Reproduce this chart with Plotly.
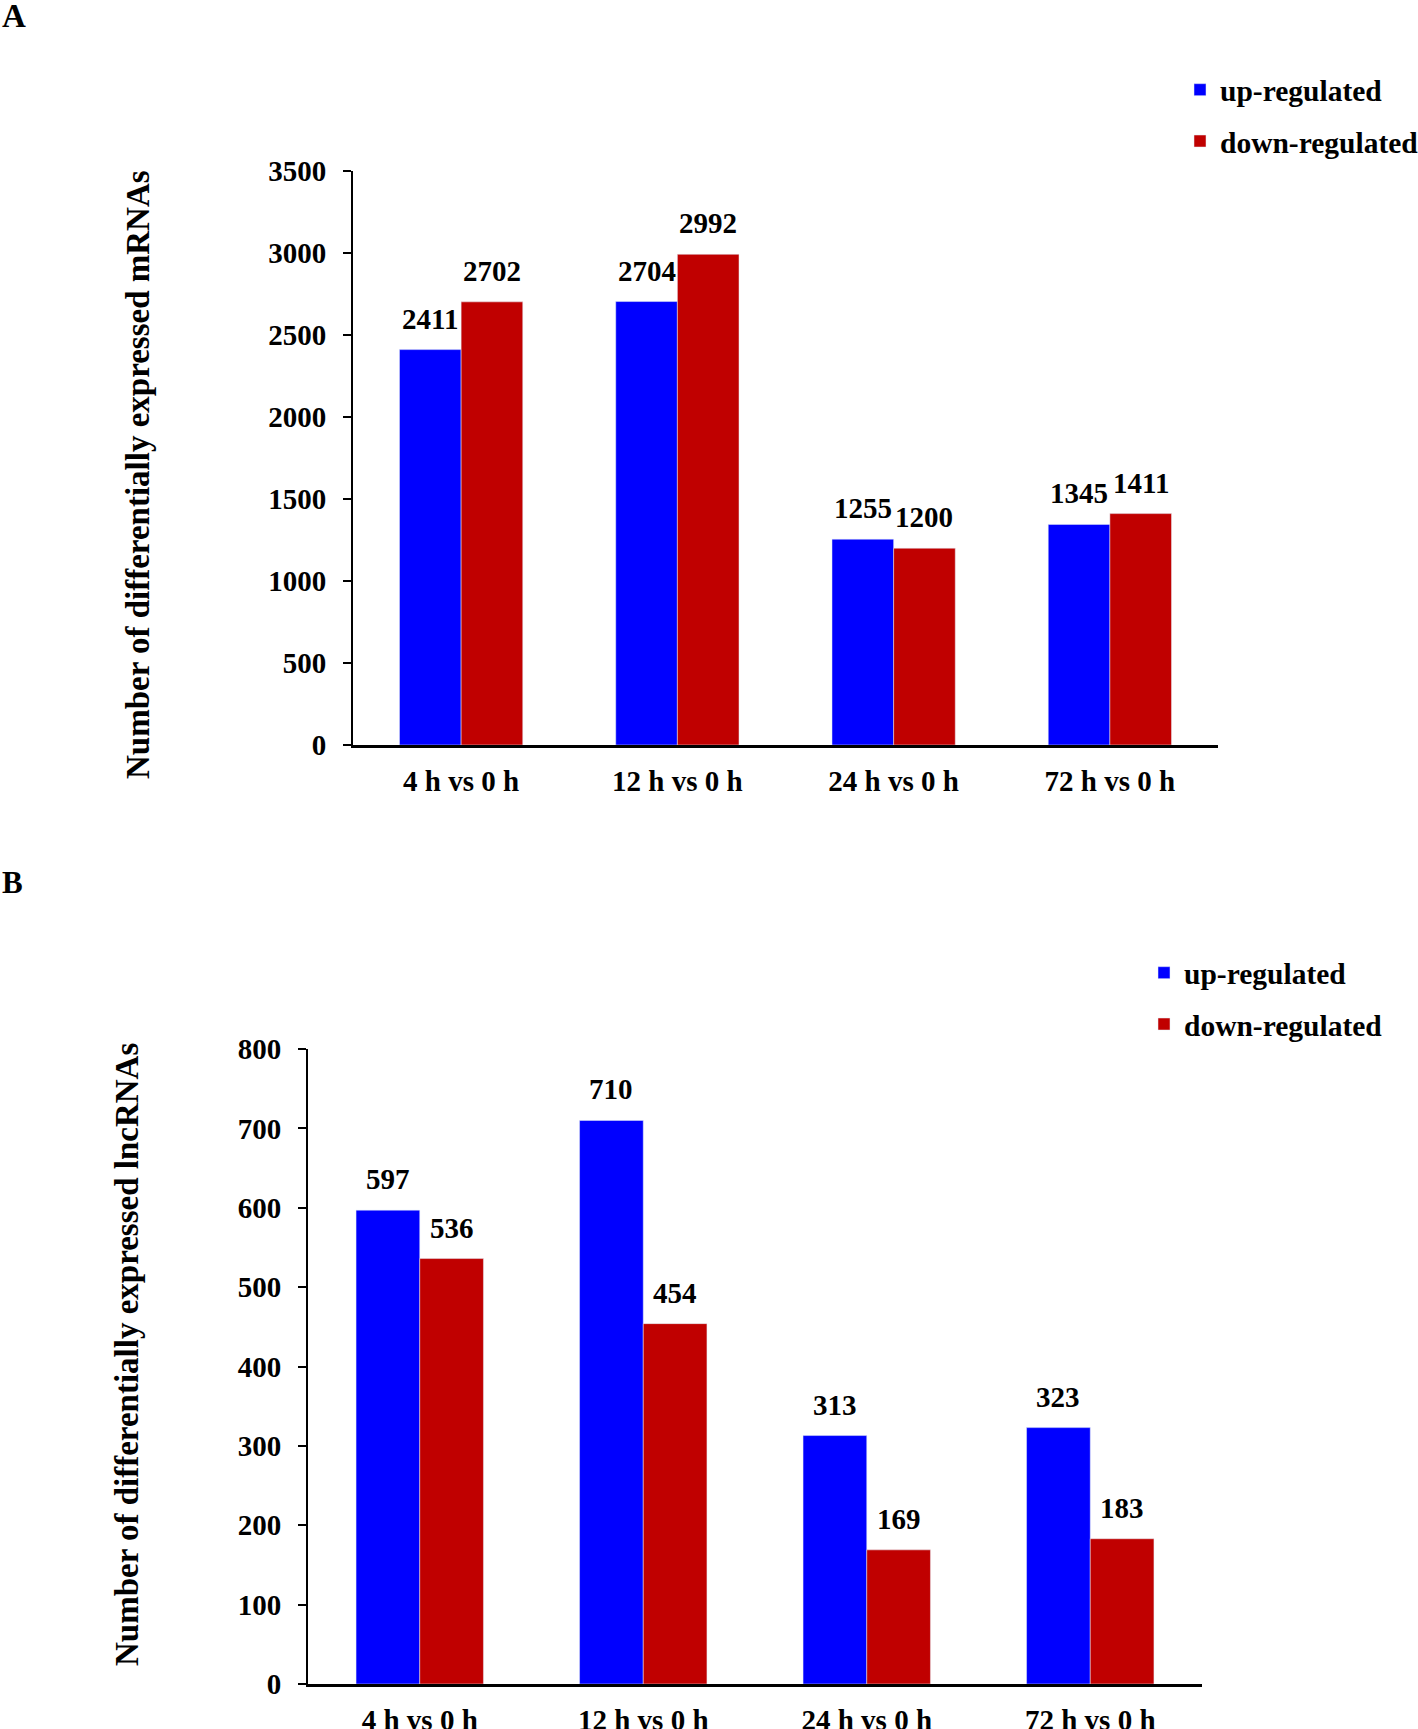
import plotly.graph_objects as go

categories = ["4 h vs 0 h", "12 h vs 0 h", "24 h vs 0 h", "72 h vs 0 h"]
mrna_up = [2411, 2704, 1255, 1345]
mrna_down = [2702, 2992, 1200, 1411]
lnc_up = [597, 710, 313, 323]
lnc_down = [536, 454, 169, 183]
series_names = ["up-regulated", "down-regulated"]
mrna_ticks = [0, 500, 1000, 1500, 2000, 2500, 3000, 3500]
lnc_ticks = [0, 100, 200, 300, 400, 500, 600, 700, 800]

W, H = 1418, 1729
BLUE = "#0000FF"
RED = "#C00000"
FONT = "Liberation Serif"
FS = 29
BARGAP = 0.43

xA = [353 / W, 1218 / W]
yA = [1 - 745 / H, 1 - 171 / H]
xB = [308 / W, 1202 / W]
yB = [1 - 1684 / H, 1 - 1049 / H]

fig = go.Figure()
fig.add_trace(go.Bar(x=categories, y=mrna_up, name=series_names[0], marker_color=BLUE,
                     xaxis="x", yaxis="y", legend="legend", legendgroup="a1"))
fig.add_trace(go.Bar(x=categories, y=mrna_down, name=series_names[1], marker_color=RED,
                     xaxis="x", yaxis="y", legend="legend", legendgroup="a2"))
fig.add_trace(go.Bar(x=categories, y=lnc_up, name=series_names[0], marker_color=BLUE,
                     xaxis="x2", yaxis="y2", legend="legend2", legendgroup="b1"))
fig.add_trace(go.Bar(x=categories, y=lnc_down, name=series_names[1], marker_color=RED,
                     xaxis="x2", yaxis="y2", legend="legend2", legendgroup="b2"))

tfont = dict(family=FONT, size=FS, color="black", weight="bold")

def yax(domain, rng, ticks, anchor):
    return dict(domain=domain, range=rng, tickvals=ticks, showline=True, linecolor="black",
                linewidth=2, ticks="outside", ticklen=8, tickwidth=2, tickcolor="black",
                showgrid=False, zeroline=False, tickfont=tfont, anchor=anchor,
                ticklabelstandoff=11, fixedrange=True, automargin=False)

def xax(domain, anchor):
    return dict(domain=domain, showline=True, linecolor="black", linewidth=3, ticks="",
                showgrid=False, zeroline=False, tickfont=tfont, anchor=anchor,
                ticklabelstandoff=8, fixedrange=True, automargin=False)

annotations = []

def add_labels(xdom, xref, yref, ups, downs):
    cat_px = (xdom[1] - xdom[0]) * W / len(categories)
    off = cat_px * (1 - BARGAP) / 4
    for c, u, d in zip(categories, ups, downs):
        for v, s in ((u, -off), (d, off)):
            annotations.append(dict(x=c, y=v, xref=xref, yref=yref, text=str(v), showarrow=False,
                                    xshift=s, yshift=13, yanchor="bottom", xanchor="center",
                                    font=tfont))

add_labels(xA, "x", "y", mrna_up, mrna_down)
add_labels(xB, "x2", "y2", lnc_up, lnc_down)

annotations += [
    dict(text="A", x=0, y=1 - 16 / H, xref="paper", yref="paper", xanchor="left", yanchor="middle",
         showarrow=False, font=dict(family=FONT, size=33, color="black", weight="bold")),
    dict(text="B", x=0, y=1 - 883 / H, xref="paper", yref="paper", xanchor="left", yanchor="middle",
         showarrow=False, font=dict(family=FONT, size=31, color="black", weight="bold")),
    dict(text="Number of differentially expressed mRNAs", x=138 / W, y=1 - 475 / H, xref="paper",
         yref="paper", xanchor="center", yanchor="middle", textangle=-90, showarrow=False,
         font=dict(family=FONT, size=33, color="black", weight="bold")),
    dict(text="Number of differentially expressed lncRNAs", x=127 / W, y=1 - 1355 / H, xref="paper",
         yref="paper", xanchor="center", yanchor="middle", textangle=-90, showarrow=False,
         font=dict(family=FONT, size=33, color="black", weight="bold")),
]

legfont = dict(family=FONT, size=29.5, color="black", weight="bold")
fig.update_layout(
    width=W, height=H, margin=dict(l=0, r=0, t=0, b=0, pad=0, autoexpand=False),
    paper_bgcolor="white", plot_bgcolor="white",
    barmode="group", bargap=BARGAP, bargroupgap=0,
    xaxis=xax(xA, "y"), yaxis=yax(yA, [0, 3500], mrna_ticks, "x"),
    xaxis2=xax(xB, "y2"), yaxis2=yax(yB, [0, 800], lnc_ticks, "x2"),
    legend=dict(x=1180 / W, y=1 - 64 / H, xanchor="left", yanchor="top", font=legfont,
                tracegroupgap=10, bgcolor="rgba(0,0,0,0)"),
    legend2=dict(x=1144 / W, y=1 - 947 / H, xanchor="left", yanchor="top", font=legfont,
                 tracegroupgap=10, bgcolor="rgba(0,0,0,0)"),
    annotations=annotations,
)

fig.write_html(
    "out.html",
    config={"displayModeBar": False},
    post_script="document.body.style.margin='0';document.documentElement.style.overflow='hidden';",
)
